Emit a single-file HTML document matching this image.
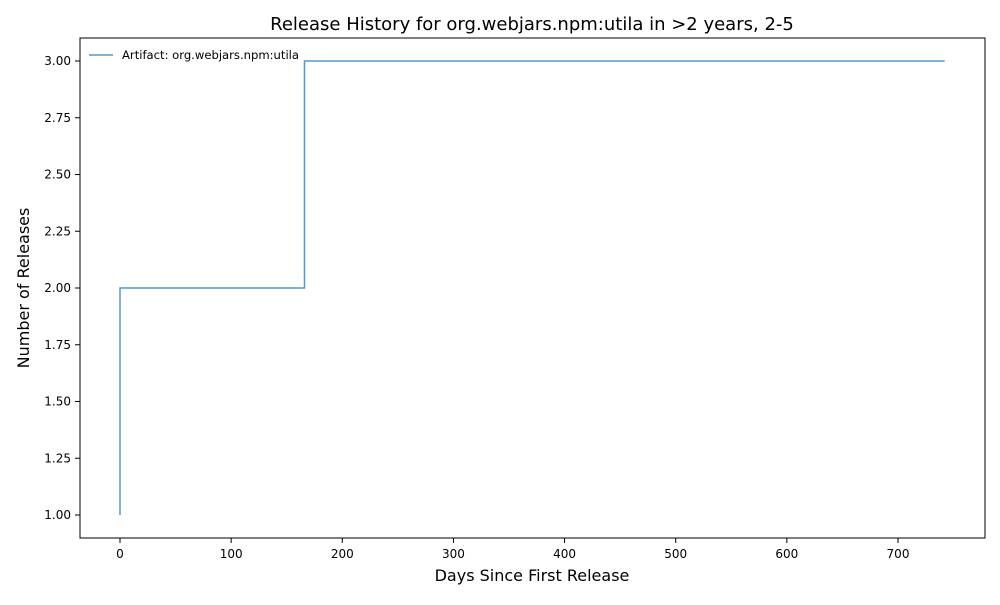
<!DOCTYPE html>
<html><head><meta charset="utf-8"><style>
body{margin:0;background:#fff;font-family:"Liberation Sans","DejaVu Sans",sans-serif}
svg text{font-family:"DejaVu Sans","Liberation Sans",sans-serif}
</style></head><body>
<svg id="chart" width="1000" height="600">
<rect width="1000" height="600" fill="#fff"/>
<text x="532" y="30" font-size="18" text-anchor="middle">Release History for org.webjars.npm:utila in &gt;2 years, 2-5</text>
<g id="plot"></g>
<rect x="80" y="38" width="905" height="500" fill="none" stroke="#000" stroke-width="1"/>
<text x="532" y="581" font-size="16" text-anchor="middle">Days Since First Release</text>
<text transform="translate(29,288) rotate(-90)" font-size="16" text-anchor="middle">Number of Releases</text>
<g>
<line x1="89" y1="55" x2="113" y2="55" stroke="#1f77b4" stroke-opacity="0.75" stroke-width="1.5"/>
<text x="122" y="59" font-size="11.6">Artifact: org.webjars.npm:utila</text>
</g>
</svg>
<script>
const days=[0,0,166,166,742];
const releases=[1,2,2,3,3];
const xTicks=[0,100,200,300,400,500,600,700];
const yTicks=[1.00,1.25,1.50,1.75,2.00,2.25,2.50,2.75,3.00];
const xs=d=>120+d*(778/700);
const ys=v=>515-(v-1)*227;
const g=document.getElementById('plot');
const NS='http://www.w3.org/2000/svg';
function mk(t,a){const e=document.createElementNS(NS,t);for(const k in a)e.setAttribute(k,a[k]);g.appendChild(e);return e;}
xTicks.forEach(t=>{
 const l=mk('line',{x1:xs(t),x2:xs(t),y1:538,y2:543,stroke:'#000'});
 
 
 const tx=mk('text',{x:xs(t),y:558,'font-size':12,'text-anchor':'middle'});tx.textContent=t;
 
 
});
yTicks.forEach(t=>{
 const l=mk('line',{x1:75,x2:80,y1:ys(t),y2:ys(t),stroke:'#000'});
 
 
 const tx=mk('text',{x:71,y:ys(t)+4,'font-size':12,'text-anchor':'end'});tx.textContent=t.toFixed(2);
 
 
});
const pts=days.map((d,i)=>xs(d)+','+ys(releases[i])).join(' ');
const p=mk('polyline',{points:pts,fill:'none',stroke:'#1f77b4','stroke-opacity':0.75,'stroke-width':1.5});


</script>
</body></html>
